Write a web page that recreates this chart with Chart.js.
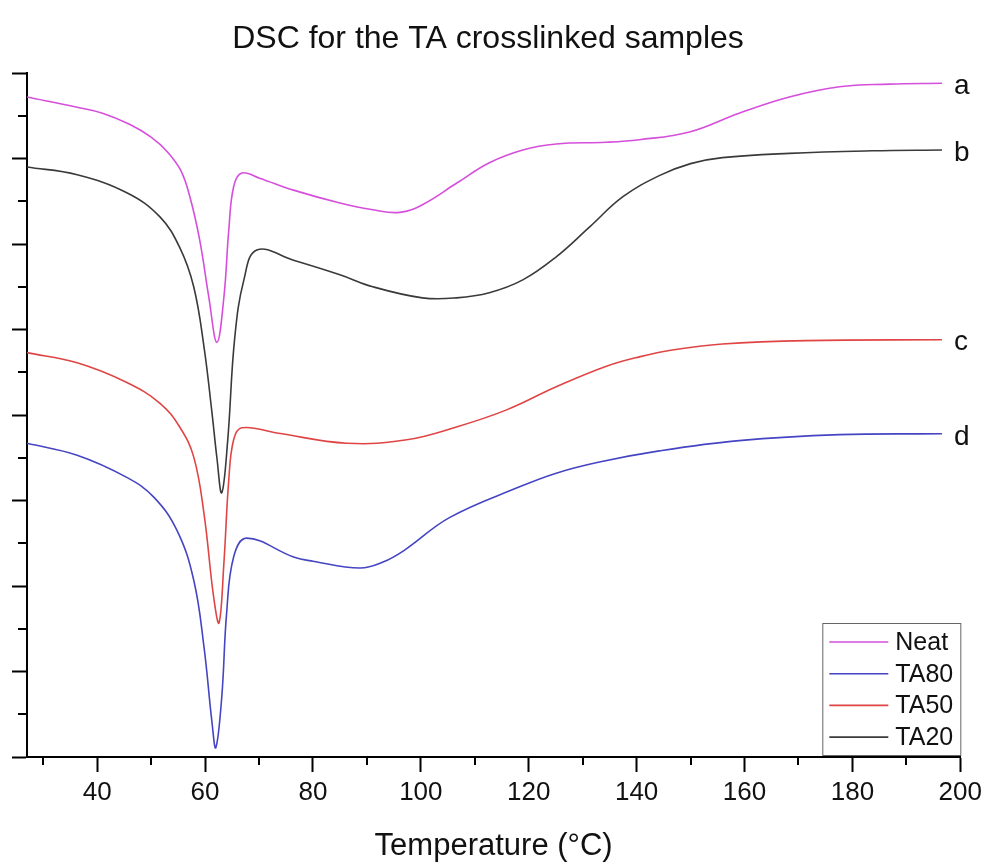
<!DOCTYPE html>
<html>
<head>
<meta charset="utf-8">
<script src="https://cdn.jsdelivr.net/npm/chart.js@4"></script>
<style>
  html, body { margin: 0; padding: 0; background: #fff; }
  #wrap { width: 984px; height: 865px; }
</style>
</head>
<body>
<div id="wrap"><canvas id="dsc"></canvas></div>
<script>
// temperature (°C) / heat flow (arb. units)
const tNeat = [27, 36.3, 41.0, 46.0, 50.0, 53.0, 55.5, 57.2, 59.0, 60.7, 62.2, 63.5, 64.4, 65.3, 66.8, 70.1, 76.4, 85.0, 91.1, 96.1, 100.3, 106.6, 112.7, 118.9, 125.1, 134.4, 140.5, 149.8, 159.0, 168.3, 177.6, 186.8, 196.6];
const neat  = [7.72, 7.60, 7.53, 7.40, 7.25, 7.08, 6.86, 6.55, 6.05, 5.38, 4.85, 5.38, 6.16, 6.67, 6.83, 6.77, 6.63, 6.48, 6.40, 6.37, 6.46, 6.71, 6.95, 7.10, 7.17, 7.19, 7.22, 7.31, 7.53, 7.72, 7.84, 7.87, 7.88];

const tTA20 = [27, 36.3, 45.5, 51.6, 55.3, 57.9, 59.8, 61.3, 62.2, 63.1, 64.2, 65.5, 67.2, 69.6, 76.4, 85.0, 91.1, 100.3, 106.6, 112.7, 118.9, 125.1, 131.3, 137.4, 144.2, 150.0, 155.9, 168.3, 183.7, 196.6];
const ta20  = [6.90, 6.81, 6.60, 6.32, 5.96, 5.50, 4.80, 4.02, 3.50, 3.09, 3.70, 4.90, 5.58, 5.93, 5.81, 5.64, 5.50, 5.37, 5.37, 5.43, 5.58, 5.85, 6.20, 6.55, 6.80, 6.94, 7.01, 7.06, 7.09, 7.10];

const tTA50 = [27, 36.3, 45.5, 51.6, 55.3, 57.9, 59.8, 61.6, 62.6, 63.5, 64.4, 65.3, 66.8, 73.3, 86.3, 97.4, 106.6, 115.9, 125.1, 134.4, 140.5, 146.6, 155.9, 171.4, 196.6];
const ta50  = [4.73, 4.61, 4.38, 4.14, 3.86, 3.51, 2.85, 1.87, 1.57, 2.27, 3.24, 3.71, 3.85, 3.79, 3.67, 3.71, 3.86, 4.06, 4.33, 4.57, 4.68, 4.76, 4.83, 4.87, 4.88];

const tTA80 = [27, 36.3, 45.5, 50.5, 54.8, 57.9, 59.8, 61.3, 62.0, 63.1, 64.0, 65.3, 67.7, 76.4, 80.0, 88.7, 93.0, 97.0, 105.3, 118.3, 125.1, 133.1, 144.2, 159.0, 177.6, 196.6];
const ta80  = [3.67, 3.53, 3.27, 3.04, 2.65, 2.07, 1.29, 0.40, 0.11, 0.70, 1.68, 2.34, 2.56, 2.34, 2.29, 2.21, 2.28, 2.42, 2.80, 3.16, 3.32, 3.45, 3.58, 3.70, 3.77, 3.78];

const xMajor = [40, 60, 80, 100, 120, 140, 160, 180, 200];
const xMinor = [30, 50, 70, 90, 110, 130, 150, 170, 190];
const yMajor = [0, 1, 2, 3, 4, 5, 6, 7, 8];
const yMinor = [0.5, 1.5, 2.5, 3.5, 4.5, 5.5, 6.5, 7.5];

const FONT = '"Liberation Sans", Arial, sans-serif';

const pts = (xs, ys) => xs.map((t, i) => ({x: t, y: ys[i]}));

const series = (label, tag, color, xs, ys) => ({
  label: label,
  tag: tag,
  data: pts(xs, ys),
  borderColor: color,
  borderWidth: 1.6,
  pointRadius: 0,
  fill: false,
  tension: 0.4
});

// minor ticks, inner legend box, a/b/c/d curve tags
const decor = {
  id: 'decor',
  afterDraw(chart) {
    const ctx = chart.ctx;
    const a = chart.chartArea;
    const x = chart.scales.x, y = chart.scales.y;
    ctx.save();
    ctx.strokeStyle = '#000';
    ctx.lineWidth = 2;
    ctx.beginPath();
    xMinor.forEach(t => {
      const px = Math.round(x.getPixelForValue(t));
      ctx.moveTo(px, a.bottom);
      ctx.lineTo(px, a.bottom + 8);
    });
    yMinor.forEach(v => {
      const py = Math.round(y.getPixelForValue(v));
      ctx.moveTo(a.left - 9, py);
      ctx.lineTo(a.left, py);
    });
    ctx.stroke();

    // legend
    const bw = 138, bh = 132;
    const bx = a.right - bw, by = a.bottom - 2 - bh;
    ctx.fillStyle = '#fff';
    ctx.fillRect(bx, by, bw, bh);
    ctx.strokeStyle = '#666';
    ctx.lineWidth = 1;
    ctx.strokeRect(bx + 0.5, by + 0.5, bw, bh);
    ctx.font = '25px ' + FONT;
    ctx.textBaseline = 'middle';
    ctx.textAlign = 'left';
    chart.data.datasets.forEach((ds, i) => {
      const ly = by + 19 + i * 31.7;
      ctx.strokeStyle = ds.borderColor;
      ctx.lineWidth = 1.6;
      ctx.beginPath();
      ctx.moveTo(bx + 7, ly);
      ctx.lineTo(bx + 66, ly);
      ctx.stroke();
      ctx.fillStyle = '#111';
      ctx.fillText(ds.label, bx + 73, ly + 1);
    });

    // curve tags at the right end of each trace
    ctx.font = '28px ' + FONT;
    ctx.fillStyle = '#111';
    chart.data.datasets.forEach((ds, i) => {
      const meta = chart.getDatasetMeta(i);
      const p = meta.data[meta.data.length - 1];
      ctx.fillText(ds.tag, p.x + 12, p.y + 3);
    });
    ctx.restore();
  }
};

new Chart(document.getElementById('dsc'), {
  type: 'line',
  data: {
    datasets: [
      series('Neat', 'a', '#d64fdc', tNeat, neat),
      series('TA80', 'd', '#4545c4', tTA80, ta80),
      series('TA50', 'c', '#e04545', tTA50, ta50),
      series('TA20', 'b', '#3a3a3a', tTA20, ta20)
    ]
  },
  options: {
    responsive: true,
    maintainAspectRatio: false,
    animation: false,
    layout: { padding: { left: 12, right: 20, top: 0, bottom: 0 } },
    plugins: {
      legend: { display: false },
      tooltip: { enabled: false },
      title: {
        display: true,
        text: 'DSC for the TA crosslinked samples',
        color: '#111',
        font: { family: FONT, size: 32, weight: 'normal' },
        padding: { top: 20, bottom: 14.6 }
      }
    },
    scales: {
      x: {
        type: 'linear',
        min: 27,
        max: 200,
        afterBuildTicks: axis => { axis.ticks = xMajor.map(v => ({value: v})); },
        ticks: {
          color: '#111',
          padding: 2,
          maxRotation: 0,
          font: { family: FONT, size: 26, lineHeight: 1.45 },
          callback: v => String(v)
        },
        grid: { drawOnChartArea: false, drawTicks: true, tickLength: 15, tickWidth: 2, tickColor: '#000' },
        border: { display: true, color: '#000', width: 2 },
        title: {
          display: true,
          text: 'Temperature (°C)',
          color: '#111',
          font: { family: FONT, size: 31 },
          padding: { top: 14.1, bottom: 0 }
        }
      },
      y: {
        type: 'linear',
        min: 0,
        max: 8,
        afterBuildTicks: axis => { axis.ticks = yMajor.map(v => ({value: v})); },
        ticks: { display: false },
        grid: { drawOnChartArea: false, drawTicks: true, tickLength: 15, tickWidth: 2, tickColor: '#000' },
        border: { display: true, color: '#000', width: 2 }
      }
    }
  },
  plugins: [decor]
});
</script>
</body>
</html>
